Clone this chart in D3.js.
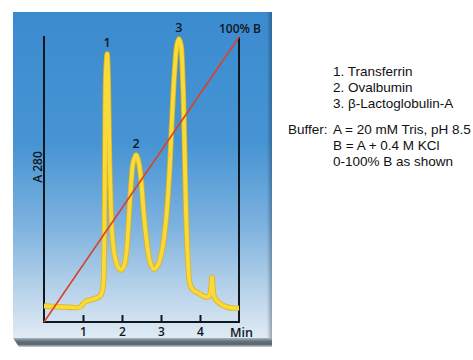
<!DOCTYPE html>
<html><head><meta charset="utf-8">
<script src="https://cdn.jsdelivr.net/npm/d3@7"></script>
<style>html,body{margin:0;padding:0;background:#fff;}svg{display:block;}</style>
</head><body>
<script>
// ---- data ----
const timeMin = [0.00,0.59,0.92,1.05,1.26,1.44,1.51,1.54,1.56,1.57,1.59,1.62,1.64,1.66,1.68,1.71,1.74,1.81,1.90,1.97,2.05,2.12,2.18,2.24,2.29,2.36,2.42,2.49,2.55,2.63,2.72,2.82,2.92,3.03,3.13,3.22,3.28,3.35,3.41,3.46,3.51,3.56,3.60,3.64,3.69,3.74,3.82,4.00,4.15,4.24,4.28,4.31,4.33,4.37,4.46,4.62,4.79,5.00];
const absorbance = [5.6,5.2,5.2,7.0,8.0,9.1,11.9,23.4,49.7,74.1,88.1,93.7,88.1,74.1,56.6,42.7,32.2,23.4,19.2,18.2,19.6,25.2,37.4,49.7,55.9,58.4,56.3,49.7,39.2,28.7,21.0,18.5,19.9,25.2,35.7,53.1,70.6,88.1,96.9,99.0,96.9,84.6,63.6,39.2,21.7,13.3,11.2,9.8,8.7,9.1,11.9,15.7,11.9,8.7,7.0,5.6,4.9,4.9];
const gradientTime = [0, 5];
const gradientPercentB = [0, 100];
const xTicks = [1, 2, 3, 4];
const peakLabels = ["1", "2", "3"];
const peakTimes = [1.62, 2.36, 3.46];
const peakHeights = [93.7, 58.4, 99.0];
const legendLines = ["1. Transferrin", "2. Ovalbumin", "3. \u03B2-Lactoglobulin-A"];
const bufferLines = ["A = 20 mM Tris, pH 8.5", "B = A + 0.4 M KCl", "0-100% B as shown"];

const W = 473, H = 360;
const svg = d3.select("body").append("svg").attr("width", W).attr("height", H);
const defs = svg.append("defs");
const bg = defs.append("linearGradient").attr("id","bg").attr("x1",0).attr("y1",0).attr("x2",0).attr("y2",1);
[[0,"#3b8bcf"],[0.4,"#4694d3"],[0.65,"#7bb1de"],[0.87,"#bcd5eb"],[1,"#e0ebf4"]].forEach(s=>bg.append("stop").attr("offset",s[0]).attr("stop-color",s[1]));
const bb = defs.append("linearGradient").attr("id","bb").attr("x1",0).attr("y1",0).attr("x2",0).attr("y2",1);
[[0,"#aab6c0"],[0.35,"#66727c"],[0.7,"#58636c"],[1,"#d0d6db"]].forEach(s=>bb.append("stop").attr("offset",s[0]).attr("stop-color",s[1]));
const rb = defs.append("linearGradient").attr("id","rb").attr("x1",0).attr("y1",0).attr("x2",1).attr("y2",0);
[[0,"rgba(0,0,0,0)"],[1,"rgba(20,40,60,0.35)"]].forEach(s=>rb.append("stop").attr("offset",s[0]).attr("stop-color",s[1]));

// panel
svg.append("rect").attr("x",13).attr("y",12).attr("width",259).attr("height",326).attr("fill","url(#bg)");
svg.append("rect").attr("x",267).attr("y",12).attr("width",5).attr("height",326).attr("fill","url(#rb)");
svg.append("path").attr("d","M13,338 L272,338 L272,347 L19,347 Z").attr("fill","url(#bb)");

// scales
const x = d3.scaleLinear().domain([0,5]).range([44,239]);
const y = d3.scaleLinear().domain([0,100]).range([322,36]);
const yB = d3.scaleLinear().domain([0,100]).range([322,37]);

const ink = "#10171f";
const font = "'Open Sans', 'Noto Sans', sans-serif";
const lfont = "'Liberation Sans', Arial, sans-serif";

// axes
svg.append("line").attr("x1",x(0)).attr("x2",x(0)).attr("y1",y(100)).attr("y2",y(0)).attr("stroke",ink).attr("stroke-width",2);
svg.append("line").attr("x1",x(5)).attr("x2",x(5)).attr("y1",yB(100)).attr("y2",y(0)).attr("stroke",ink).attr("stroke-width",2);
const xAxis = d3.axisBottom(x).tickValues(xTicks).tickSize(-7).tickPadding(4).tickFormat(d3.format("d"));
const gx = svg.append("g").attr("transform",`translate(0,${y(0)})`).call(xAxis);
gx.select(".domain").remove();
gx.append("line").attr("x1",x(0)-1).attr("x2",x(5)+1).attr("stroke",ink).attr("stroke-width",2);
gx.selectAll(".tick line").attr("stroke",ink).attr("stroke-width",2);
gx.selectAll(".tick text").attr("fill",ink).attr("font-family",font).attr("font-size",12).attr("font-weight",600).attr("dy","0.85em");
svg.append("text").attr("x",x(5)-9).attr("y",337).attr("fill",ink).attr("font-family",font).attr("font-size",12.5).attr("font-weight",600).text("Min");

// y label
svg.append("text").attr("transform","translate(42,167) rotate(-90)").attr("text-anchor","middle").attr("fill",ink).attr("font-family",font).attr("font-size",12).attr("font-weight",600).text("A 280");

// chromatogram
const line = d3.line().x((d,i)=>x(timeMin[i])).y(d=>y(d)).curve(d3.curveCatmullRom.alpha(0.5));
svg.append("path").attr("d",line(absorbance)).attr("fill","none").attr("stroke","#e0b21a").attr("stroke-width",5.4).attr("stroke-linejoin","round");
svg.append("path").attr("d",line(absorbance)).attr("fill","none").attr("stroke","#f8db3a").attr("stroke-width",3.8).attr("stroke-linejoin","round");

// gradient line
const gline = d3.line().x((d,i)=>x(gradientTime[i])).y(d=>yB(d));
svg.append("path").attr("d",gline(gradientPercentB)).attr("fill","none").attr("stroke","#d8432c").attr("stroke-width",1.6);

// peak labels
svg.selectAll(".pk").data(peakLabels).enter().append("text")
  .attr("x",(d,i)=>x(peakTimes[i])).attr("y",(d,i)=>y(peakHeights[i])-7)
  .attr("text-anchor","middle").attr("fill",ink).attr("font-family",font).attr("font-size",12.5).attr("font-weight",600).text(d=>d);
svg.append("text").attr("x",x(5)+1).attr("y",33).attr("text-anchor","middle").attr("fill",ink).attr("font-family",font).attr("font-size",12).attr("font-weight",600).text("100% B");

// legend
const tfont = 13.5;
svg.selectAll(".lg").data(legendLines).enter().append("text")
  .attr("x",333).attr("y",(d,i)=>76+i*16).attr("fill","#111").attr("font-family",lfont).attr("font-size",tfont).text(d=>d);
svg.append("text").attr("x",288).attr("y",134).attr("fill","#111").attr("font-family",lfont).attr("font-size",tfont).text("Buffer:");
svg.selectAll(".bf").data(bufferLines).enter().append("text")
  .attr("x",333).attr("y",(d,i)=>134+i*16).attr("fill","#111").attr("font-family",lfont).attr("font-size",tfont).text(d=>d);
</script>
</body></html>
